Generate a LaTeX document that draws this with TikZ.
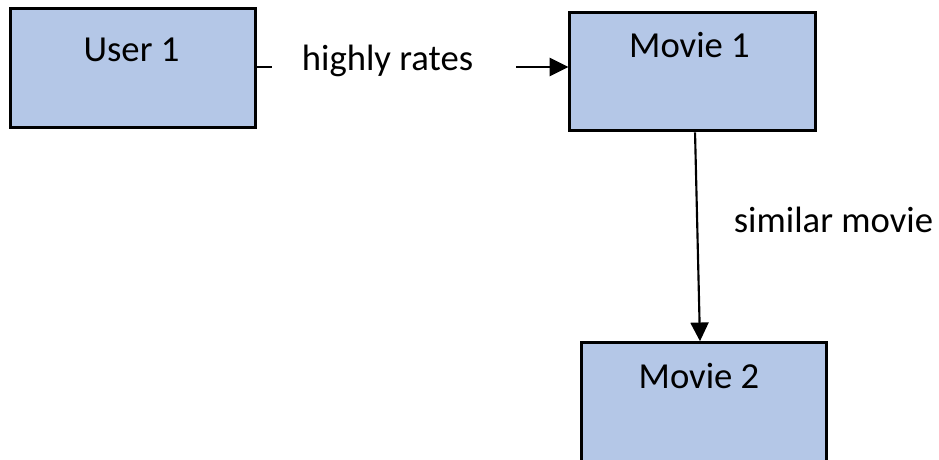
\documentclass[tikz,border=0pt]{standalone}
\usepackage{xcolor}
\usepackage{fontspec}
\setmainfont{Carlito}
\usepackage{tikz}
\usetikzlibrary{arrows.meta, positioning, calc}

\definecolor{boxblue}{RGB}{180,199,231}

\begin{document}
\begin{tikzpicture}[
        x=0.75pt, y=-0.75pt,
        font=\fontsize{27.5}{33}\selectfont,
        item/.style={rectangle, draw=black, fill=boxblue, line width=2.2pt, minimum width=184pt, minimum height=89pt},
        caption/.style={anchor=base, inner sep=0pt},
        edge/.style={line width=1.6pt, -{Triangle[length=14pt, width=13.5pt]}}
    ]
    \useasboundingbox (0,0) rectangle (939,460);

    % User and the movie it rates
    \node[item] (User1) at (133,68) {};
    \node[caption] (User1Text) at (131.5,62) {User 1};
    \node[item] (Movie1) at (692.5,71.5) {};
    \node[caption] (Movie1Text) at (689.5,58) {Movie 1};

    \node[caption] (Rates) at (387.5,70) {highly rates};
    \coordinate (RatesIn) at (272,67);
    \coordinate (RatesOut) at (516,67);

    \draw[edge, -] (User1.east |- RatesIn) -- (RatesIn);
    \draw[edge] (RatesOut) -- (Movie1.west |- RatesOut);

    % Similar movie below
    \node[item] (Movie2) at (704,402) {};
    \node[caption] (Movie2Text) at (699,388) {Movie 2};

    \draw[edge] ([xshift=1.9pt]Movie1.south) -- ([xshift=-3pt]Movie2.north);
    \node[caption] (Similar) at (833.5,232) {similar movie};

\end{tikzpicture}
\end{document}
